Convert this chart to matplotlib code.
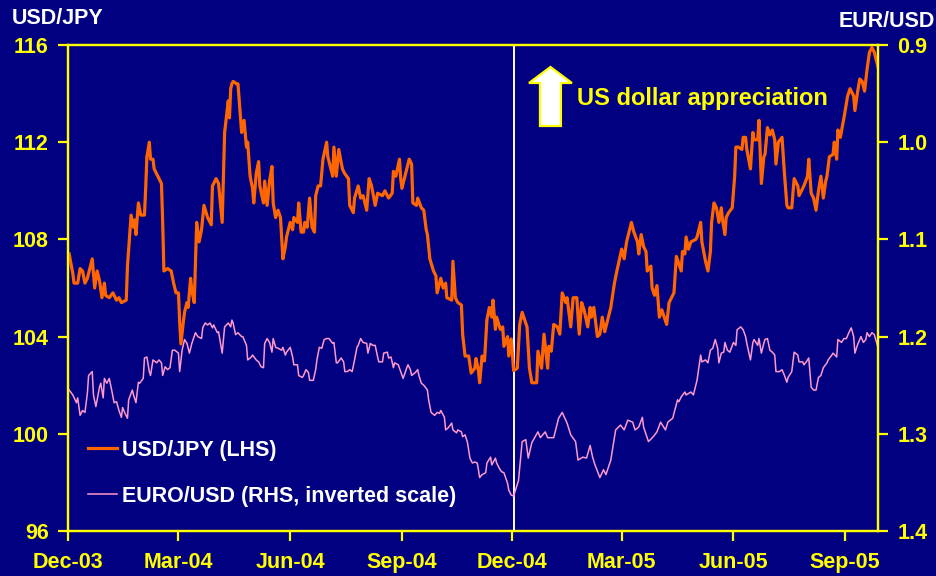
import matplotlib
matplotlib.use("Agg")
import matplotlib.pyplot as plt
import pandas as pd
from matplotlib.patches import Polygon

plt.rcParams['font.family'] = ['Liberation Sans', 'DejaVu Sans']
plt.rcParams['font.weight'] = 'bold'

NAVY   = '#000080'
YELLOW = '#FFFF00'
ORANGE = '#FF6600'
PINK   = '#FF99CC'

start = pd.Timestamp('2003-12-01')

# USD/JPY (left axis) - days since 1 Dec 2003, level
jpy_day = [1, 4, 5, 8, 10, 12, 14, 16, 20, 22, 24, 26, 28, 30, 31, 34, 37, 40, 42, 44,
           48, 49, 52, 54, 55, 56, 58, 60, 63, 64, 65, 67, 68, 70, 71, 74, 77, 78, 79, 82,
           85, 87, 89, 91, 92, 93, 95, 96, 98, 99, 101, 102, 104, 106, 108, 110, 112, 115, 118, 119,
           122, 124, 127, 129, 132, 133, 134, 135, 136, 139, 140, 143, 145, 147, 148, 150, 152, 153, 155, 157,
           158, 161, 162, 164, 166, 168, 169, 171, 173, 175, 177, 179, 180, 183, 185, 186, 189, 190, 192, 194,
           195, 197, 199, 201, 203, 204, 206, 208, 210, 213, 214, 218, 219, 221, 223, 226, 228, 231, 232, 235,
           236, 239, 241, 243, 246, 248, 250, 253, 255, 259, 261, 264, 267, 268, 270, 273, 274, 275, 278, 281,
           283, 284, 287, 288, 291, 293, 295, 296, 298, 301, 303, 304, 307, 309, 311, 312, 316, 317, 319, 321,
           324, 325, 327, 330, 332, 335, 336, 338, 339, 341, 343, 345, 347, 349, 350, 352, 353, 356, 358, 359,
           362, 363, 365, 367, 370, 372, 374, 376, 378, 380, 382, 386, 387, 390, 392, 395, 396, 398, 400, 403,
           405, 407, 410, 411, 414, 416, 419, 421, 423, 425, 428, 430, 431, 433, 436, 438, 440, 442, 445, 447,
           450, 452, 456, 458, 460, 462, 464, 466, 469, 470, 472, 474, 476, 477, 480, 481, 483, 485, 487, 489,
           491, 493, 495, 497, 499, 501, 503, 505, 506, 508, 509, 511, 513, 517, 518, 521, 522, 525, 527, 529,
           530, 532, 534, 536, 538, 539, 541, 542, 544, 547, 549, 550, 552, 555, 556, 558, 559, 562, 564, 565,
           568, 569, 571, 573, 574, 576, 578, 580, 582, 583, 585, 588, 590, 592, 593, 596, 598, 601, 602, 605,
           606, 609, 610, 612, 614, 616, 618, 620, 622, 624, 625, 627, 630, 631, 633, 634, 636, 639, 640, 642,
           644, 647, 648, 650, 652, 654, 656, 658, 660, 662, 664, 667]
jpy = [107.4, 106.6, 106.2, 106.2, 106.8, 106.7, 106.2, 106.4, 107.2, 106.0, 106.7, 106.3, 105.6, 106.2, 105.7, 105.6, 105.8, 105.5, 105.6, 105.4,
       105.5, 106.9, 109.0, 108.5, 108.8, 108.2, 109.5, 109.0, 109.0, 110.1, 111.4, 112.0, 111.3, 111.3, 110.9, 110.6, 110.3, 108.7, 106.7, 106.8,
       106.7, 106.2, 105.8, 105.8, 104.6, 103.7, 104.6, 105.0, 105.4, 105.2, 106.4, 105.9, 105.4, 108.7, 107.9, 108.4, 109.4, 108.9, 108.6, 110.2,
       110.5, 110.3, 108.7, 112.4, 113.7, 113.0, 114.2, 114.4, 114.5, 114.4, 114.4, 112.4, 112.9, 111.8, 112.0, 110.6, 110.1, 109.5, 110.7, 111.2,
       110.2, 109.5, 110.4, 109.4, 110.4, 111.0, 109.5, 108.9, 109.2, 108.9, 107.2, 107.7, 108.1, 108.7, 108.4, 108.9, 108.7, 109.5, 108.3, 108.3,
       108.7, 108.5, 109.7, 108.5, 108.3, 109.8, 110.2, 110.2, 111.3, 112.0, 111.4, 110.6, 111.8, 110.6, 111.7, 110.9, 110.7, 110.5, 109.4, 109.1,
       109.7, 110.2, 109.7, 109.8, 109.2, 110.5, 110.2, 109.4, 109.9, 109.8, 110.0, 109.7, 109.9, 110.8, 110.6, 111.3, 110.5, 110.1, 110.7, 111.3,
       111.1, 109.5, 109.4, 109.7, 109.3, 109.2, 108.4, 108.2, 107.2, 106.7, 106.5, 105.8, 106.4, 106.0, 106.2, 105.6, 105.5, 107.1, 105.6, 105.4,
       105.3, 104.1, 103.2, 103.2, 102.5, 102.7, 103.1, 102.6, 102.1, 103.2, 103.0, 104.7, 105.2, 104.8, 105.5, 104.3, 104.8, 104.3, 104.4, 103.6,
       104.0, 103.2, 103.9, 102.6, 102.7, 104.5, 105.0, 104.7, 104.4, 102.7, 102.1, 102.1, 103.4, 102.7, 104.1, 102.7, 103.6, 103.4, 104.5, 104.4,
       104.1, 105.8, 105.4, 105.6, 104.4, 105.6, 105.6, 104.1, 105.4, 105.1, 104.4, 105.2, 104.8, 105.2, 104.0, 104.1, 104.8, 104.2, 104.8, 105.2,
       106.2, 106.7, 107.6, 107.2, 107.9, 108.3, 108.7, 108.3, 107.9, 107.4, 108.2, 107.7, 107.5, 106.7, 106.9, 106.0, 105.7, 106.1, 104.8, 105.1,
       104.8, 104.5, 105.4, 105.6, 105.8, 107.3, 107.0, 106.7, 107.5, 107.4, 108.1, 107.6, 107.9, 108.0, 108.1, 108.7, 107.9, 107.1, 106.7, 107.5,
       108.7, 109.5, 109.3, 108.7, 109.3, 108.8, 108.2, 108.9, 109.1, 109.3, 110.6, 111.8, 111.8, 111.7, 112.2, 112.2, 111.7, 110.9, 112.4, 112.1,
       112.1, 112.9, 110.3, 111.4, 111.5, 112.6, 112.3, 112.5, 112.1, 111.1, 112.0, 112.2, 110.7, 109.4, 109.3, 109.3, 110.5, 110.2, 109.8, 110.1,
       110.2, 110.6, 111.3, 109.9, 109.7, 109.2, 110.0, 110.6, 109.7, 110.4, 110.6, 111.4, 111.5, 112.0, 111.3, 112.5, 112.2, 113.0, 113.3, 113.9,
       114.2, 113.9, 113.3, 114.0, 114.6, 114.5, 114.1, 115.0, 115.7, 115.9, 115.7, 115.1]

# EUR/USD (right axis, inverted) - days since 1 Dec 2003, level
eur_day = [1, 4, 7, 8, 10, 12, 14, 16, 17, 20, 21, 23, 26, 27, 29, 30, 32, 34, 36, 38,
           40, 42, 44, 45, 47, 49, 50, 53, 54, 56, 58, 59, 62, 63, 65, 67, 68, 70, 73, 75,
           77, 78, 80, 82, 84, 86, 88, 91, 92, 94, 96, 98, 100, 102, 105, 107, 110, 111, 113, 115,
           117, 119, 120, 123, 124, 127, 129, 132, 134, 135, 136, 138, 140, 143, 144, 147, 148, 151, 152, 155,
           157, 159, 161, 162, 164, 166, 168, 169, 171, 173, 176, 177, 179, 180, 183, 185, 186, 189, 190, 193,
           194, 196, 198, 199, 202, 204, 205, 207, 209, 211, 213, 215, 218, 219, 221, 222, 225, 227, 228, 230,
           232, 234, 236, 238, 239, 241, 243, 246, 247, 249, 251, 253, 255, 256, 259, 260, 263, 264, 266, 268,
           269, 272, 274, 276, 279, 280, 282, 283, 286, 288, 289, 291, 293, 296, 297, 299, 302, 304, 306, 307,
           310, 311, 313, 316, 317, 320, 321, 324, 325, 327, 329, 331, 333, 335, 337, 338, 339, 341, 344, 345,
           348, 349, 352, 353, 355, 357, 359, 362, 363, 365, 367, 371, 374, 377, 379, 382, 387, 389, 393, 395,
           400, 404, 407, 411, 414, 418, 420, 424, 427, 430, 432, 434, 438, 441, 443, 447, 451, 455, 458, 461,
           465, 467, 470, 473, 474, 478, 482, 485, 488, 492, 494, 498, 499, 502, 503, 505, 508, 509, 513, 515,
           517, 518, 521, 522, 525, 527, 529, 531, 533, 535, 536, 538, 540, 541, 543, 545, 548, 550, 551, 554,
           556, 558, 559, 562, 564, 565, 568, 569, 571, 573, 574, 576, 578, 580, 582, 583, 586, 588, 590, 592,
           593, 596, 598, 601, 602, 605, 606, 608, 610, 612, 614, 616, 618, 620, 622, 625, 626, 629, 630, 633,
           634, 637, 639, 641, 643, 645, 647, 648, 650, 653, 655, 657, 658, 660, 662, 664, 667]
eur = [1.255, 1.260, 1.268, 1.263, 1.281, 1.276, 1.278, 1.258, 1.240, 1.236, 1.260, 1.272, 1.252, 1.248, 1.263, 1.243, 1.248, 1.243, 1.255, 1.268,
       1.267, 1.276, 1.283, 1.273, 1.279, 1.284, 1.265, 1.255, 1.260, 1.268, 1.247, 1.248, 1.243, 1.222, 1.221, 1.236, 1.240, 1.224, 1.227, 1.224,
       1.227, 1.240, 1.231, 1.234, 1.232, 1.214, 1.214, 1.217, 1.236, 1.214, 1.203, 1.207, 1.217, 1.207, 1.196, 1.200, 1.202, 1.191, 1.186, 1.188,
       1.186, 1.191, 1.188, 1.196, 1.195, 1.217, 1.190, 1.186, 1.190, 1.183, 1.186, 1.198, 1.196, 1.200, 1.200, 1.209, 1.224, 1.221, 1.219, 1.224,
       1.226, 1.231, 1.232, 1.207, 1.202, 1.206, 1.216, 1.202, 1.211, 1.212, 1.214, 1.211, 1.219, 1.216, 1.211, 1.221, 1.229, 1.229, 1.240, 1.242,
       1.240, 1.234, 1.237, 1.245, 1.245, 1.234, 1.224, 1.211, 1.212, 1.203, 1.202, 1.202, 1.207, 1.206, 1.227, 1.227, 1.222, 1.226, 1.236, 1.236,
       1.234, 1.236, 1.224, 1.211, 1.209, 1.202, 1.206, 1.207, 1.217, 1.207, 1.209, 1.209, 1.221, 1.226, 1.226, 1.217, 1.216, 1.222, 1.221, 1.232,
       1.227, 1.229, 1.236, 1.243, 1.232, 1.229, 1.234, 1.240, 1.237, 1.234, 1.240, 1.248, 1.250, 1.255, 1.265, 1.278, 1.281, 1.278, 1.279, 1.276,
       1.283, 1.296, 1.294, 1.289, 1.296, 1.299, 1.296, 1.298, 1.303, 1.301, 1.309, 1.325, 1.330, 1.329, 1.330, 1.337, 1.345, 1.342, 1.340, 1.330,
       1.324, 1.332, 1.325, 1.330, 1.335, 1.339, 1.340, 1.351, 1.358, 1.363, 1.364, 1.348, 1.308, 1.306, 1.325, 1.309, 1.298, 1.304, 1.298, 1.304,
       1.304, 1.284, 1.278, 1.289, 1.301, 1.308, 1.327, 1.324, 1.325, 1.312, 1.324, 1.332, 1.345, 1.337, 1.342, 1.327, 1.296, 1.291, 1.296, 1.286,
       1.288, 1.296, 1.293, 1.283, 1.293, 1.308, 1.303, 1.298, 1.288, 1.296, 1.288, 1.284, 1.279, 1.265, 1.267, 1.262, 1.257, 1.260, 1.257, 1.260,
       1.250, 1.245, 1.219, 1.226, 1.224, 1.227, 1.214, 1.212, 1.203, 1.212, 1.227, 1.217, 1.216, 1.206, 1.214, 1.216, 1.206, 1.209, 1.193, 1.190,
       1.193, 1.200, 1.207, 1.224, 1.206, 1.203, 1.209, 1.202, 1.217, 1.207, 1.203, 1.202, 1.214, 1.216, 1.219, 1.236, 1.236, 1.234, 1.240, 1.247,
       1.242, 1.236, 1.216, 1.219, 1.226, 1.226, 1.229, 1.226, 1.222, 1.252, 1.255, 1.255, 1.242, 1.240, 1.232, 1.227, 1.224, 1.219, 1.217, 1.221,
       1.203, 1.206, 1.202, 1.202, 1.196, 1.191, 1.200, 1.217, 1.209, 1.200, 1.206, 1.203, 1.196, 1.200, 1.196, 1.198, 1.211]

tick_dates  = ['2003-12-01', '2004-03-01', '2004-06-01', '2004-09-01',
               '2004-12-01', '2005-03-01', '2005-06-01', '2005-09-01']
tick_labels = ['Dec-03', 'Mar-04', 'Jun-04', 'Sep-04', 'Dec-04', 'Mar-05', 'Jun-05', 'Sep-05']
jpy_ticks = [96, 100, 104, 108, 112, 116]
eur_ticks = [0.9, 1.0, 1.1, 1.2, 1.3, 1.4]
marker_date = '2004-12-02'

jpy_dates = start + pd.to_timedelta(jpy_day, unit='D')
eur_dates = start + pd.to_timedelta(eur_day, unit='D')

fig = plt.figure(figsize=(9.36, 5.76), dpi=100, facecolor=NAVY)
ax = fig.add_axes([0.0726, 0.0781, 0.8654, 0.8438])
ax.set_facecolor(NAVY)
ax2 = ax.twinx()

l1, = ax.plot(jpy_dates, jpy, color=ORANGE, lw=2.3, zorder=3)
l2, = ax2.plot(eur_dates, eur, color=PINK, lw=1.1)
ax.axvline(pd.Timestamp(marker_date), color='white', lw=1.4, zorder=2)

ax.set_xlim(start, pd.Timestamp('2005-09-28'))
ax.set_ylim(96, 116)
ax2.set_ylim(1.4, 0.9)

ax.set_xticks(pd.to_datetime(tick_dates))
ax.set_xticklabels(tick_labels)
ax.set_yticks(jpy_ticks)
ax2.set_yticks(eur_ticks)
ax2.set_yticklabels([f'{v:.1f}' for v in eur_ticks])

for a in (ax, ax2):
    for s in a.spines.values():
        s.set_color(YELLOW)
        s.set_linewidth(1.6)
ax.tick_params(axis='both', colors=YELLOW, direction='out', length=7, width=1.6,
               labelsize=15.5, labelcolor=YELLOW)
ax.tick_params(axis='x', pad=8)
ax.tick_params(axis='y', pad=7)
ax2.tick_params(axis='y', colors=YELLOW, direction='out', length=7, width=1.6,
                labelsize=15.5, labelcolor=YELLOW, pad=7)

fig.text(12/936, 1 - 24/576, 'USD/JPY', color='white', fontsize=15.5, va='baseline')
fig.text(935/936, 1 - 27/576, 'EUR/USD', color='white', fontsize=15.5, va='baseline', ha='right')

# arrow "US dollar appreciation"
arrow = Polygon([(0.5827, 0.8333), (0.6086, 0.8333), (0.6086, 0.9218), (0.6222, 0.9218),
                 (0.5957, 0.9547), (0.5691, 0.9218), (0.5827, 0.9218)],
                closed=True, transform=ax.transAxes, facecolor='white',
                edgecolor=YELLOW, lw=1.6, zorder=5)
ax.add_patch(arrow)
ax.text(0.628, 0.889, 'US dollar appreciation', transform=ax.transAxes,
        color=YELLOW, fontsize=17, va='center', ha='left', zorder=5)

leg = ax2.legend([l1, l2], ['USD/JPY (LHS)', 'EURO/USD (RHS, inverted scale)'],
                 loc='lower left', bbox_to_anchor=(0.0247, 0.05), frameon=False,
                 borderpad=0, borderaxespad=0, prop={'size': 15.5, 'weight': 'bold'},
                 labelcolor='white', handlelength=1.35, handletextpad=0.25,
                 labelspacing=1.15)

fig.savefig('out.png', dpi=100, facecolor=NAVY)
